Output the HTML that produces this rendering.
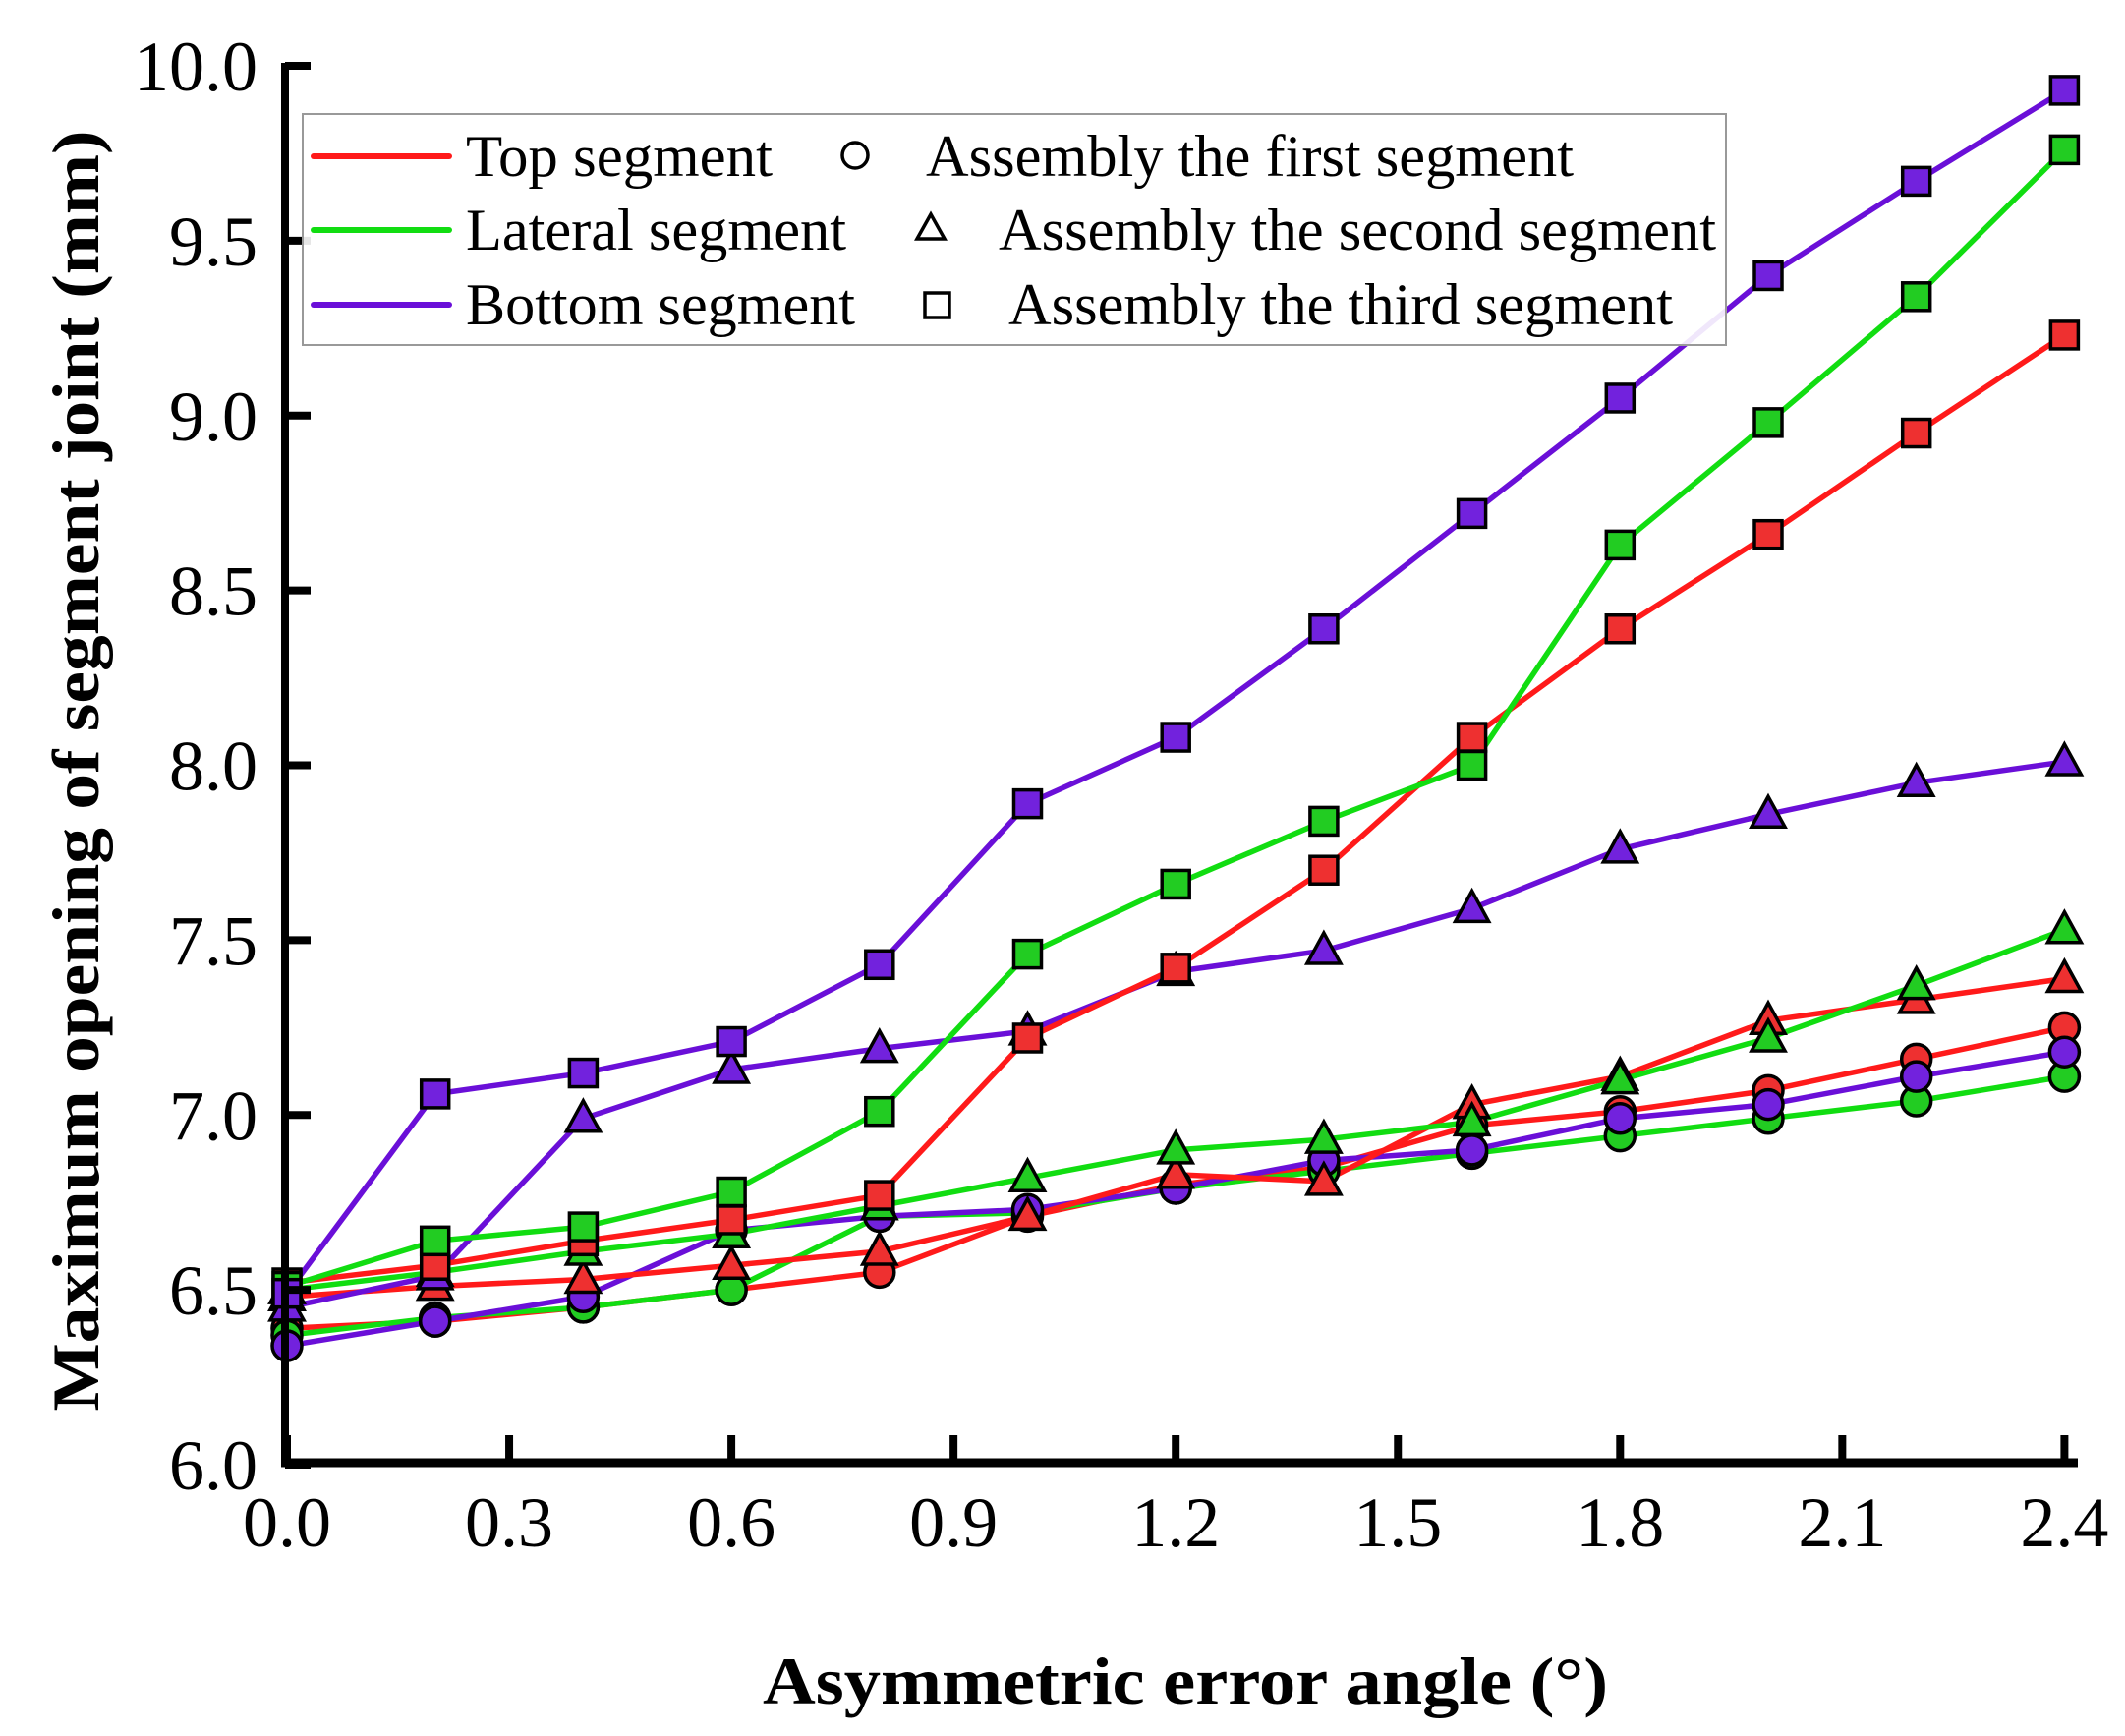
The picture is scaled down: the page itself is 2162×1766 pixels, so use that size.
<!DOCTYPE html>
<html><head><meta charset="utf-8">
<style>
html,body{margin:0;padding:0;background:#fff;}
svg{display:block;}
text{font-family:"Liberation Serif","Times New Roman",serif;fill:#000;}
</style></head>
<body>
<svg id="s" width="2162" height="1766" viewBox="0 0 2162 1766" xmlns="http://www.w3.org/2000/svg">
<rect width="2162" height="1766" fill="#fff"/>
<g id="plot"></g>
<line x1="290" y1="64" x2="290" y2="1492" stroke="#000" stroke-width="8"/>
<line x1="286" y1="1488" x2="2114" y2="1488" stroke="#000" stroke-width="9"/>
<g id="ticks" stroke="#000" stroke-width="8"></g>
<g id="labels" font-size="72"></g>
<rect x="308" y="116" width="1448" height="235" fill="#fff" fill-opacity="0.9" stroke="#999" stroke-width="2"/>
<line x1="319" y1="159" x2="457" y2="159" stroke="#ff1a1a" stroke-width="6" stroke-linecap="round"/>
<line x1="319" y1="234" x2="457" y2="234" stroke="#11dd11" stroke-width="6" stroke-linecap="round"/>
<line x1="319" y1="310" x2="457" y2="310" stroke="#6a0fd8" stroke-width="6" stroke-linecap="round"/>
<g font-size="60">
<text x="474" y="179" textLength="312" lengthAdjust="spacingAndGlyphs">Top segment</text>
<text x="474" y="254" textLength="387" lengthAdjust="spacingAndGlyphs">Lateral segment</text>
<text x="474" y="330" textLength="396" lengthAdjust="spacingAndGlyphs">Bottom segment</text>
<text x="942" y="179" textLength="659" lengthAdjust="spacingAndGlyphs">Assembly the first segment</text>
<text x="1016" y="254" textLength="730" lengthAdjust="spacingAndGlyphs">Assembly the second segment</text>
<text x="1026" y="330" textLength="676" lengthAdjust="spacingAndGlyphs">Assembly the third segment</text>
</g>
<circle cx="870" cy="158" r="13" fill="none" stroke="#000" stroke-width="3.5"/>
<polygon points="947,218 961,243 933,243" fill="none" stroke="#000" stroke-width="3.5"/>
<rect x="941" y="298" width="25" height="25" fill="none" stroke="#000" stroke-width="3.5"/>
<text x="1206" y="1733" font-size="68" font-weight="bold" text-anchor="middle" textLength="860" lengthAdjust="spacingAndGlyphs">Asymmetric error angle (°)</text>
<text transform="translate(100,784) rotate(-90)" font-size="68" font-weight="bold" text-anchor="middle" textLength="1303" lengthAdjust="spacingAndGlyphs">Maximum opening of segment joint (mm)</text>
</svg>
<script>
var NS="http://www.w3.org/2000/svg";
function X(v){return 292+v*753.5;}
function Y(v){return 1490-(v-6)*355.75;}
function el(t,a,p){var e=document.createElementNS(NS,t);for(var k in a)e.setAttribute(k,a[k]);p.appendChild(e);return e;}
var ticks=document.getElementById('ticks'),labels=document.getElementById('labels');
for(var i=0;i<=8;i++){var x=X(i*0.3);el('line',{x1:x,y1:1460,x2:x,y2:1488},ticks);
 var t=el('text',{x:x,y:1573,'text-anchor':'middle'},labels);t.textContent=(i*0.3).toFixed(1);}
for(var i=0;i<=8;i++){var v=6+i*0.5,y=Y(v);el('line',{x1:290,y1:y,x2:316,y2:y},ticks);
 var t=el('text',{x:262,y:y+25,'text-anchor':'end'},labels);t.textContent=v.toFixed(1);}
var xs=[0,0.2,0.4,0.6,0.8,1.0,1.2,1.4,1.6,1.8,2.0,2.2,2.4];
var series=[
 ['#ff1a1a','#ee3030','c',[6.39,6.41,6.45,6.50,6.55,6.71,6.80,6.85,6.97,7.01,7.07,7.16,7.25]],
 ['#11dd11','#22cc22','c',[6.37,6.42,6.45,6.50,6.71,6.72,6.79,6.84,6.89,6.94,6.99,7.04,7.11]],
 ['#6a0fd8','#7222dd','c',[6.34,6.41,6.48,6.67,6.71,6.73,6.79,6.87,6.90,6.99,7.03,7.11,7.18]],
 ['#ff1a1a','#ee3030','t',[6.48,6.51,6.53,6.57,6.61,6.71,6.83,6.81,7.03,7.11,7.27,7.33,7.39]],
 ['#11dd11','#22cc22','t',[6.50,6.55,6.61,6.66,6.74,6.82,6.90,6.93,6.98,7.10,7.22,7.37,7.53]],
 ['#6a0fd8','#7222dd','t',[6.45,6.54,6.99,7.13,7.19,7.24,7.41,7.47,7.59,7.76,7.86,7.95,8.01]],
 ['#ff1a1a','#ee3030','s',[6.52,6.57,6.64,6.70,6.77,7.22,7.42,7.70,8.08,8.39,8.66,8.95,9.23]],
 ['#11dd11','#22cc22','s',[6.51,6.64,6.68,6.78,7.01,7.46,7.66,7.84,8.00,8.63,8.98,9.34,9.76]],
 ['#6a0fd8','#7222dd','s',[6.49,7.06,7.12,7.21,7.43,7.89,8.08,8.39,8.72,9.05,9.40,9.67,9.93]]
];
var plot=document.getElementById('plot');
var lg=el('g',{},plot),mg=el('g',{},plot);
series.forEach(function(s){
 var pts=xs.map(function(x,i){return X(x)+','+Y(s[3][i]);}).join(' ');
 el('polyline',{points:pts,fill:'none',stroke:s[0],'stroke-width':5.5,'stroke-linejoin':'round'},lg);
});
series.forEach(function(s){
 xs.forEach(function(x,i){var cx=X(x),cy=Y(s[3][i]);
  var a={fill:s[1],stroke:'#000','stroke-width':3.5};
  if(s[2]=='c'){a.cx=cx;a.cy=cy;a.r=15;el('circle',a,mg);}
  else if(s[2]=='t'){a.points=cx+','+(cy-18)+' '+(cx+17)+','+(cy+13)+' '+(cx-17)+','+(cy+13);el('polygon',a,mg);}
  else{a.x=cx-14;a.y=cy-14;a.width=28;a.height=28;el('rect',a,mg);}
 });
});
</script>
</body></html>
